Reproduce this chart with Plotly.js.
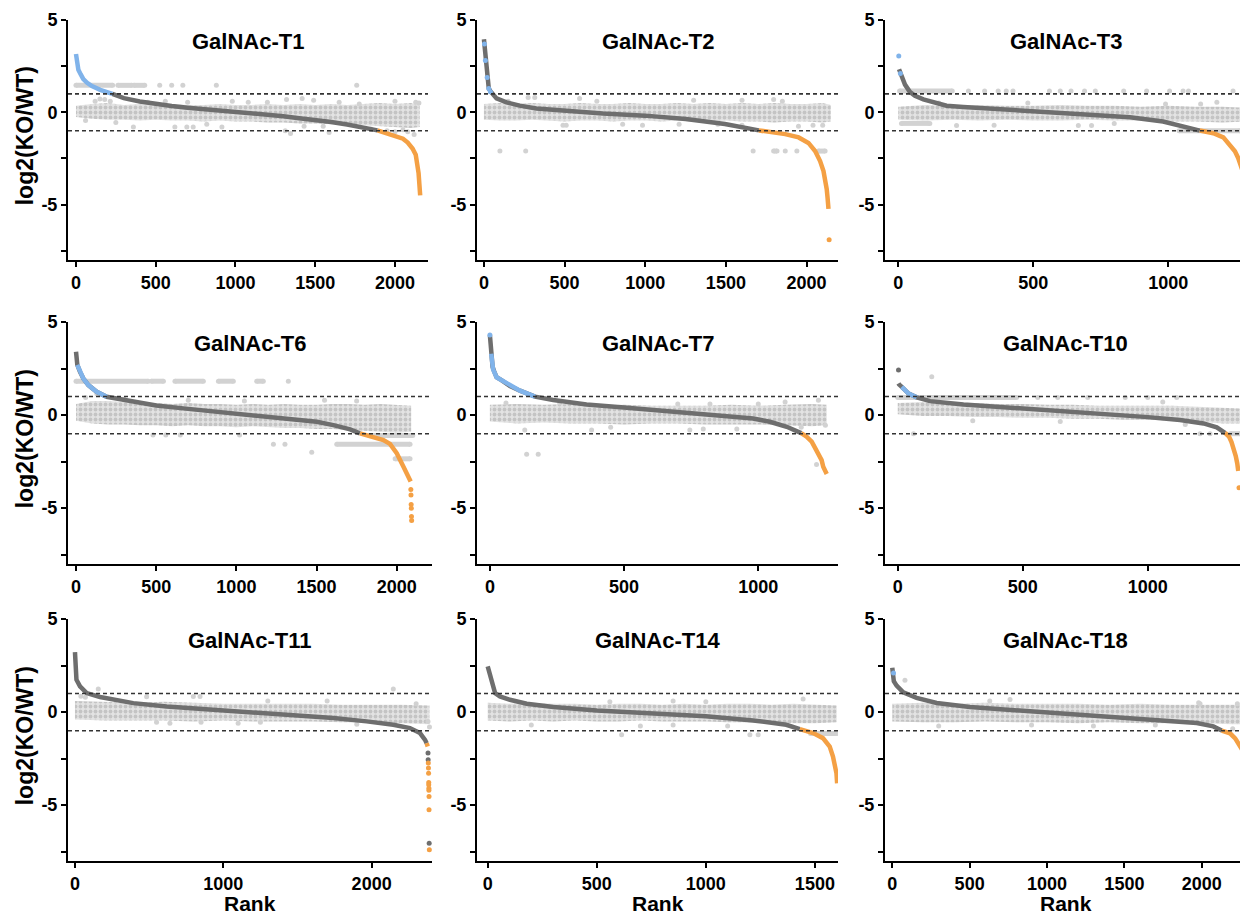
<!DOCTYPE html>
<html><head><meta charset="utf-8">
<script src="https://cdn.plot.ly/plotly-3.0.1.min.js"></script>
<style>html,body{margin:0;padding:0;overflow:hidden;background:#fff}</style>
</head><body>
<div id="chart" style="width:1250px;height:916px"></div>
<script>
// ---------------- DATA ----------------
const titles = ['GalNAc-T1','GalNAc-T2','GalNAc-T3','GalNAc-T6','GalNAc-T7','GalNAc-T10','GalNAc-T11','GalNAc-T14','GalNAc-T18'];
const yTickVals = [-7.5, -5, -2.5, 0, 2.5, 5];
const yTickText = ['', '-5', '', '0', '', '5'];
const thresholds = [1, -1];

// GalNAc-T1
const t1Ticks = [0, 500, 1000, 1500, 2000];
const t1GrayX = [228, 300, 400, 500, 600, 700, 800, 900, 1000, 1100, 1200, 1300, 1400, 1500, 1600, 1700, 1800, 1890];
const t1GrayY = [1.0, 0.77, 0.59, 0.45, 0.34, 0.25, 0.18, 0.11, 0.04, -0.04, -0.12, -0.21, -0.32, -0.41, -0.52, -0.66, -0.8, -0.98];
const t1BlueX = [0, 5, 15, 30, 46, 70, 100, 152, 190, 228];
const t1BlueY = [3.16, 2.8, 2.3, 2.05, 1.8, 1.6, 1.42, 1.22, 1.1, 1.0];
const t1OrangeX = [1890, 1950, 2000, 2050, 2080, 2110, 2130, 2140, 2148, 2153, 2158];
const t1OrangeY = [-0.98, -1.13, -1.25, -1.43, -1.64, -1.96, -2.3, -2.77, -3.3, -3.9, -4.5];
const t1BandX = [0, 100, 200, 300, 400, 500, 600, 700, 800, 900, 1000, 1100, 1200, 1300, 1400, 1500, 1600, 1700, 1800, 1900, 2000, 2100, 2155];
const t1BandHi = [0.35, 0.45, 0.5, 0.4, 0.45, 0.4, 0.45, 0.4, 0.4, 0.45, 0.4, 0.4, 0.45, 0.4, 0.45, 0.4, 0.45, 0.4, 0.45, 0.5, 0.45, 0.5, 0.4];
const t1BandLo = [-0.25, -0.35, -0.4, -0.4, -0.45, -0.4, -0.45, -0.45, -0.5, -0.45, -0.5, -0.5, -0.55, -0.55, -0.6, -0.6, -0.65, -0.65, -0.7, -0.75, -0.8, -0.85, -0.8];
const t1CloudX = [0, 230, null, 263, 350, null, 363, 431, null, 525, null, 600, null, 670, null, 880, null, 1760, null, 120, null, 150, null, 180, null, 215, null, 360, null, 620, null, 695, null, 735, null, 915, null, 1312, null, 1345, null, 1587, null, 1430, null, 1950, null, 2000, null, 2050, null, 2080, null, 2120, null, 1320, null, 1418, null, 1490, null, 1776, null, 560, null, 700, null, 980, null, 1200, null, 1650, null, 2000, null, 2130, null, 60, null, 250, null, 450, null, 820, null, 1080, null, 1550, null, 1850, null, 2150];
const t1CloudY = [1.46, 1.46, null, 1.46, 1.46, null, 1.46, 1.46, null, 1.46, null, 1.46, null, 1.46, null, 1.46, null, 1.46, null, 0.6, null, 0.72, null, 0.7, null, 0.6, null, -0.8, null, -0.8, null, -0.8, null, -0.8, null, -0.8, null, -1.0, null, -1.15, null, -1.1, null, -0.75, null, -1.0, null, -1.05, null, -0.95, null, -1.05, null, -1.2, null, 0.7, null, 0.75, null, 0.65, null, 0.45, null, 0.6, null, 0.55, null, 0.6, null, 0.55, null, 0.55, null, 0.6, null, 0.55, null, -0.45, null, -0.55, null, 0.55, null, -0.65, null, 0.55, null, -0.75, null, -0.9, null, 0.5];

// GalNAc-T2
const t2Ticks = [0, 500, 1000, 1500, 2000];
const t2GrayX = [0, 3, 6, 9, 12, 16, 20, 25, 30, 40, 47, 78, 140, 222, 325, 500, 737, 1000, 1251, 1494, 1663, 1704];
const t2GrayY = [3.96, 3.7, 3.25, 2.8, 2.54, 2.27, 1.88, 1.64, 1.29, 1.15, 1.07, 0.75, 0.54, 0.36, 0.21, 0.09, -0.07, -0.18, -0.36, -0.63, -0.89, -0.98];
const t2BlueDotX = [3, 9, 20, 30, 40];
const t2BlueDotY = [3.7, 2.8, 1.88, 1.29, 1.12];
const t2OrangeX = [1704, 1786, 1868, 1951, 2012, 2053, 2084, 2105, 2119, 2125, 2130, 2136];
const t2OrangeY = [-0.98, -1.09, -1.18, -1.36, -1.66, -2.1, -2.64, -3.18, -3.71, -4.16, -4.6, -5.23];
const t2OrangeDotX = [2140];
const t2OrangeDotY = [-6.9];
const t2BandX = [0, 100, 200, 300, 400, 500, 600, 700, 800, 900, 1000, 1100, 1200, 1300, 1400, 1500, 1600, 1700, 1800, 1900, 2000, 2100, 2150];
const t2BandHi = [0.45, 0.5, 0.45, 0.5, 0.45, 0.45, 0.5, 0.45, 0.45, 0.5, 0.45, 0.45, 0.5, 0.45, 0.5, 0.45, 0.5, 0.45, 0.5, 0.45, 0.45, 0.5, 0.4];
const t2BandLo = [-0.4, -0.45, -0.45, -0.4, -0.45, -0.5, -0.45, -0.45, -0.5, -0.45, -0.45, -0.5, -0.45, -0.5, -0.5, -0.45, -0.5, -0.5, -0.55, -0.5, -0.5, -0.55, -0.5];
const t2CloudX = [99, null, 259, null, 1669, null, 1796, 1817, null, 1868, null, 1940, null, 2074, 2115, null, 274, null, 315, null, 593, null, 1600, null, 1796, null, 490, null, 510, null, 860, null, 983, null, 1210, null, 1600, null, 1950, null, 2040, null, 2100, null, 150, null, 700, null, 1300, null, 1450, null, 1850];
const t2CloudY = [-2.1, null, -2.1, null, -2.1, null, -2.1, -2.1, null, -2.1, null, -2.1, null, -2.1, -2.1, null, 0.8, null, 0.8, null, 0.75, null, 0.65, null, 0.7, null, -0.7, null, -0.7, null, -0.65, null, -0.7, null, -0.65, null, -0.7, null, -0.75, null, -0.7, null, -0.7, null, 0.6, null, 0.6, null, 0.65, null, -0.65, null, 0.6];

// GalNAc-T3
const t3Ticks = [0, 500, 1000];
const t3GrayX = [3, 12, 25, 43, 62, 93, 130, 179, 241, 364, 500, 611, 735, 858, 981, 1056, 1117];
const t3GrayY = [2.33, 1.92, 1.5, 1.11, 0.9, 0.7, 0.54, 0.36, 0.29, 0.18, 0.07, -0.02, -0.13, -0.27, -0.5, -0.77, -0.99];
const t3BlueDotX = [2, 8];
const t3BlueDotY = [3.05, 2.1];
const t3OrangeX = [1117, 1167, 1204, 1228, 1247, 1259, 1268, 1276];
const t3OrangeY = [-0.99, -1.13, -1.36, -1.76, -2.11, -2.47, -2.83, -3.2];
const t3BandX = [0, 100, 200, 300, 400, 500, 600, 700, 800, 900, 1000, 1100, 1200, 1280];
const t3BandHi = [0.3, 0.4, 0.35, 0.4, 0.35, 0.35, 0.4, 0.35, 0.35, 0.3, 0.35, 0.3, 0.3, 0.25];
const t3BandLo = [-0.4, -0.45, -0.4, -0.45, -0.4, -0.45, -0.45, -0.4, -0.45, -0.45, -0.5, -0.5, -0.55, -0.5];
const t3CloudX = [5, 200, null, 260, null, 320, null, 370, null, 400, null, 425, null, 560, null, 600, null, 640, null, 690, null, 730, null, 835, null, 920, null, 1005, null, 1055, null, 1075, null, 1240, null, 12, 117, null, 1040, 1265, null, 216, null, 667, null, 716, null, 355, null, 1180, null, 990, null, 150, null, 480, null, 800, null, 1120];
const t3CloudY = [1.15, 1.15, null, 1.15, null, 1.15, null, 1.15, null, 1.15, null, 1.15, null, 1.15, null, 1.15, null, 1.15, null, 1.15, null, 1.15, null, 1.15, null, 1.15, null, 1.15, null, 1.15, null, 1.15, null, 1.15, null, -0.6, -0.6, null, -1.0, -1.0, null, -0.72, null, -0.72, null, -0.72, null, -0.7, null, 0.55, null, 0.45, null, 0.5, null, 0.5, null, -0.6, null, 0.45];

// GalNAc-T6
const t6Ticks = [0, 500, 1000, 1500, 2000];
const t6GrayX = [0, 2, 4, 6, 8, 25, 46, 77, 129, 191, 358, 500, 669, 877, 1002, 1189, 1397, 1501, 1605, 1709, 1771];
const t6GrayY = [3.4, 3.15, 2.95, 2.8, 2.7, 2.32, 1.96, 1.61, 1.25, 0.98, 0.71, 0.52, 0.36, 0.18, 0.09, -0.05, -0.23, -0.36, -0.54, -0.77, -0.98];
const t6BlueX = [8, 25, 46, 77, 129, 191];
const t6BlueY = [2.7, 2.32, 1.96, 1.61, 1.25, 0.98];
const t6OrangeX = [1771, 1854, 1917, 1958, 2000, 2042, 2073, 2087];
const t6OrangeY = [-0.98, -1.16, -1.34, -1.55, -2.05, -2.77, -3.3, -3.57];
const t6OrangeDotX = [2088, 2089, 2090, 2091, 2092, 2093];
const t6OrangeDotY = [-4.0, -4.3, -4.8, -5.0, -5.45, -5.66];
const t6BandX = [0, 100, 200, 300, 400, 500, 600, 700, 800, 900, 1000, 1100, 1200, 1300, 1400, 1500, 1600, 1700, 1800, 1900, 2000, 2090];
const t6BandHi = [0.6, 0.75, 0.75, 0.7, 0.7, 0.65, 0.6, 0.65, 0.6, 0.6, 0.55, 0.6, 0.55, 0.6, 0.55, 0.55, 0.6, 0.6, 0.55, 0.6, 0.55, 0.5];
const t6BandLo = [-0.3, -0.45, -0.5, -0.5, -0.55, -0.55, -0.6, -0.55, -0.6, -0.6, -0.65, -0.6, -0.65, -0.7, -0.7, -0.75, -0.75, -0.8, -0.85, -0.9, -0.95, -0.9];
const t6CloudX = [0, 450, null, 470, 545, null, 617, 794, null, 888, 981, null, 1127, 1168, null, 1324, null, 1626, 2083, null, 1231, null, 1303, null, 1990, 2083, null, 1470, null, 1830, 2100, null, 480, null, 560, null, 650, null, 1020, null, 130, null, 60, null, 300, null, 700, null, 1050, null, 1550, null, 1750];
const t6CloudY = [1.82, 1.82, null, 1.82, 1.82, null, 1.82, 1.82, null, 1.82, 1.82, null, 1.82, 1.82, null, 1.82, null, -1.57, -1.57, null, -1.57, null, -1.57, null, -2.35, -2.35, null, -2.0, null, -1.1, -1.1, null, -1.07, null, -1.07, null, -1.07, null, -1.07, null, 1.15, null, 0.95, null, 0.85, null, 0.8, null, 0.75, null, 0.8, null, 0.75];

// GalNAc-T7
const t7Ticks = [0, 500, 1000];
const t7GrayX = [0, 3, 6, 10, 15, 25, 43, 75, 112, 168, 236, 360, 500, 609, 733, 857, 981, 1043, 1106, 1160];
const t7GrayY = [4.3, 3.58, 3.3, 2.6, 2.38, 2.03, 1.88, 1.56, 1.31, 0.99, 0.81, 0.57, 0.41, 0.27, 0.14, 0.0, -0.18, -0.36, -0.63, -0.97];
const t7BlueX = [5, 8, 12, 25, 43, 75, 112, 168];
const t7BlueY = [3.3, 2.9, 2.45, 2.03, 1.88, 1.56, 1.31, 0.99];
const t7BlueDotX = [0];
const t7BlueDotY = [4.3];
const t7OrangeX = [1160, 1180, 1199, 1211, 1224, 1236, 1242, 1248, 1255];
const t7OrangeY = [-0.97, -1.16, -1.43, -1.79, -2.15, -2.42, -2.78, -3.05, -3.17];
const t7BandX = [0, 100, 200, 300, 400, 500, 600, 700, 800, 900, 1000, 1100, 1200, 1255];
const t7BandHi = [0.55, 0.6, 0.55, 0.6, 0.5, 0.55, 0.5, 0.5, 0.5, 0.55, 0.5, 0.55, 0.6, 0.55];
const t7BandLo = [-0.35, -0.45, -0.4, -0.45, -0.45, -0.5, -0.45, -0.45, -0.5, -0.5, -0.5, -0.55, -0.6, -0.55];
const t7CloudX = [137, null, 180, null, 1224, null, 1217, null, 130, null, 379, null, 745, null, 795, null, 920, null, 1250, null, 1160, null, 700, null, 820, null, 1100, null, 60, null, 260, null, 450, null, 1000];
const t7CloudY = [-2.1, null, -2.1, null, 0.8, null, -2.65, null, -0.8, null, -0.8, null, -0.8, null, -0.75, null, -0.75, null, -0.55, null, -0.65, null, 0.6, null, 0.6, null, 0.7, null, 0.65, null, 0.65, null, -0.65, null, 0.6];

// GalNAc-T10
const t10Ticks = [0, 500, 1000];
const t10GrayX = [3, 5, 16, 43, 76, 129, 263, 396, 500, 663, 796, 929, 1000, 1129, 1223, 1276, 1309];
const t10GrayY = [1.70, 1.65, 1.52, 1.16, 0.95, 0.75, 0.57, 0.45, 0.36, 0.22, 0.09, -0.04, -0.11, -0.27, -0.45, -0.66, -0.95];
const t10GrayDotX = [3];
const t10GrayDotY = [2.42];
const t10BlueX = [16, 43, 76];
const t10BlueY = [1.52, 1.16, 0.95];
const t10OrangeX = [1309, 1325, 1335, 1345, 1352, 1358, 1362];
const t10OrangeY = [-0.95, -1.15, -1.45, -1.8, -2.2, -2.6, -3.0];
const t10OrangeDotX = [1365];
const t10OrangeDotY = [-3.9];
const t10BandX = [0, 100, 200, 300, 400, 500, 600, 700, 800, 900, 1000, 1100, 1200, 1300, 1370];
const t10BandHi = [0.65, 0.7, 0.65, 0.65, 0.6, 0.6, 0.55, 0.55, 0.5, 0.5, 0.5, 0.5, 0.45, 0.4, 0.35];
const t10BandLo = [0.05, -0.05, -0.05, -0.1, -0.1, -0.15, -0.15, -0.2, -0.2, -0.25, -0.25, -0.3, -0.35, -0.45, -0.45];
const t10CloudX = [0, 475, null, 560, null, 640, null, 760, null, 910, null, 1000, null, 1116, null, 136, null, 63, null, 1209, null, 1249, null, 1330, 1370, null, 300, null, 650, null, 1060, null, 1150];
const t10CloudY = [0.95, 0.95, null, 0.95, null, 0.95, null, 0.95, null, 0.95, null, 0.95, null, 0.95, null, 2.06, null, -1.0, null, -1.0, null, -1.0, null, -1.0, -1.0, null, -0.3, null, -0.35, null, 0.7, null, -0.5];

// GalNAc-T11
const t11Ticks = [0, 1000, 2000];
const t11GrayX = [0, 2, 4, 6, 8, 10, 34, 79, 169, 393, 618, 1000, 1292, 1517, 1742, 1966, 2146, 2258, 2326, 2360, 2371];
const t11GrayY = [3.22, 2.8, 2.45, 2.19, 1.92, 1.74, 1.38, 1.02, 0.81, 0.48, 0.3, 0.09, -0.05, -0.18, -0.32, -0.5, -0.68, -0.86, -1.13, -1.49, -1.67];
const t11GrayDotX = [2380, 2381, 2388];
const t11GrayDotY = [-2.2, -2.56, -7.04];
const t11OrangeX = [2371, 2378];
const t11OrangeY = [-1.67, -1.85];
const t11OrangeDotX = [2382, 2383, 2384, 2385, 2385, 2386, 2386, 2387, 2387, 2389];
const t11OrangeDotY = [-2.74, -3.0, -3.28, -3.78, -3.9, -4.09, -4.2, -4.53, -5.25, -7.4];
const t11BandX = [0, 200, 400, 600, 800, 1000, 1200, 1400, 1600, 1800, 2000, 2200, 2390];
const t11BandHi = [0.6, 0.55, 0.5, 0.55, 0.5, 0.45, 0.45, 0.45, 0.45, 0.4, 0.4, 0.4, 0.35];
const t11BandLo = [-0.4, -0.45, -0.45, -0.45, -0.5, -0.45, -0.5, -0.5, -0.5, -0.55, -0.55, -0.6, -0.65];
const t11CloudX = [157, null, 2146, null, 798, null, 843, null, 483, null, 40, null, 70, null, 1300, null, 1700, null, 2300, null, 550, null, 640, null, 850, null, 1100, null, 1250, null, 1900, null, 2390, null, 2380];
const t11CloudY = [1.24, null, 1.24, null, 0.84, null, 0.84, null, 0.82, null, 0.85, null, 0.8, null, 0.6, null, 0.6, null, 0.45, null, -0.55, null, -0.6, null, -0.55, null, -0.6, null, -0.55, null, -0.65, null, -0.8, null, -0.5];

// GalNAc-T14
const t14Ticks = [0, 500, 1000, 1500];
const t14GrayX = [0, 8, 15, 23, 34, 56, 102, 179, 301, 500, 759, 1000, 1217, 1369, 1431];
const t14GrayY = [2.46, 2.1, 1.74, 1.29, 1.02, 0.84, 0.66, 0.45, 0.27, 0.09, -0.05, -0.23, -0.45, -0.68, -0.92];
const t14OrangeX = [1431, 1492, 1537, 1568, 1583, 1591, 1599, 1602];
const t14OrangeY = [-0.92, -1.13, -1.4, -1.85, -2.39, -2.75, -3.29, -3.83];
const t14BandX = [0, 100, 200, 300, 400, 500, 600, 700, 800, 900, 1000, 1100, 1200, 1300, 1400, 1500, 1600];
const t14BandHi = [0.5, 0.45, 0.5, 0.45, 0.45, 0.4, 0.45, 0.45, 0.4, 0.45, 0.4, 0.45, 0.45, 0.4, 0.45, 0.4, 0.35];
const t14BandLo = [-0.45, -0.5, -0.45, -0.5, -0.45, -0.5, -0.5, -0.45, -0.5, -0.5, -0.5, -0.55, -0.55, -0.55, -0.6, -0.6, -0.55];
const t14CloudX = [1446, null, 614, null, 1202, null, 1240, null, 1480, 1600, null, 200, null, 700, null, 850, null, 1100, null, 560, null, 850, null, 1000];
const t14CloudY = [0.7, null, -1.22, null, -1.22, null, -1.22, null, -1.15, -1.15, null, -0.7, null, -0.75, null, -0.7, null, -0.75, null, 0.55, null, 0.6, null, 0.55];

// GalNAc-T18
const t18Ticks = [0, 500, 1000, 1500, 2000];
const t18GrayX = [0, 10, 28, 71, 157, 287, 502, 782, 1002, 1321, 1537, 1752, 1968, 2075, 2129];
const t18GrayY = [2.38, 1.66, 1.42, 1.06, 0.76, 0.49, 0.27, 0.11, -0.02, -0.18, -0.29, -0.41, -0.59, -0.77, -0.99];
const t18BlueDotX = [8];
const t18BlueDotY = [2.1];
const t18OrangeX = [2129, 2183, 2216, 2244, 2260];
const t18OrangeY = [-0.99, -1.14, -1.41, -1.77, -2.0];
const t18BandX = [0, 200, 400, 600, 800, 1000, 1200, 1400, 1600, 1800, 2000, 2200, 2280];
const t18BandHi = [0.45, 0.5, 0.45, 0.5, 0.45, 0.45, 0.45, 0.4, 0.45, 0.4, 0.4, 0.4, 0.4];
const t18BandLo = [-0.5, -0.55, -0.55, -0.5, -0.55, -0.55, -0.6, -0.55, -0.6, -0.6, -0.6, -0.65, -0.65];
const t18CloudX = [82, null, 761, null, 630, null, 1989, null, 1980, null, 2230, null, 300, null, 900, null, 1300, null, 1700, null, 2200];
const t18CloudY = [1.71, null, 0.67, null, 0.6, null, 0.45, null, 0.5, null, 0.45, null, -0.75, null, -0.7, null, -0.75, null, -0.7, null, -0.9];

// ---------------- table built from the arrays ----------------
const panels = [
  {ticks: t1Ticks, grayX: t1GrayX, grayY: t1GrayY, blueX: t1BlueX, blueY: t1BlueY, orangeX: t1OrangeX, orangeY: t1OrangeY, bandX: t1BandX, bandHi: t1BandHi, bandLo: t1BandLo, cloudX: t1CloudX, cloudY: t1CloudY},
  {ticks: t2Ticks, grayX: t2GrayX, grayY: t2GrayY, blueDotX: t2BlueDotX, blueDotY: t2BlueDotY, orangeX: t2OrangeX, orangeY: t2OrangeY, orangeDotX: t2OrangeDotX, orangeDotY: t2OrangeDotY, bandX: t2BandX, bandHi: t2BandHi, bandLo: t2BandLo, cloudX: t2CloudX, cloudY: t2CloudY},
  {ticks: t3Ticks, grayX: t3GrayX, grayY: t3GrayY, blueDotX: t3BlueDotX, blueDotY: t3BlueDotY, orangeX: t3OrangeX, orangeY: t3OrangeY, bandX: t3BandX, bandHi: t3BandHi, bandLo: t3BandLo, cloudX: t3CloudX, cloudY: t3CloudY},
  {ticks: t6Ticks, grayX: t6GrayX, grayY: t6GrayY, blueX: t6BlueX, blueY: t6BlueY, orangeX: t6OrangeX, orangeY: t6OrangeY, orangeDotX: t6OrangeDotX, orangeDotY: t6OrangeDotY, bandX: t6BandX, bandHi: t6BandHi, bandLo: t6BandLo, cloudX: t6CloudX, cloudY: t6CloudY},
  {ticks: t7Ticks, grayX: t7GrayX, grayY: t7GrayY, blueX: t7BlueX, blueY: t7BlueY, blueDotX: t7BlueDotX, blueDotY: t7BlueDotY, orangeX: t7OrangeX, orangeY: t7OrangeY, bandX: t7BandX, bandHi: t7BandHi, bandLo: t7BandLo, cloudX: t7CloudX, cloudY: t7CloudY},
  {ticks: t10Ticks, grayX: t10GrayX, grayY: t10GrayY, grayDotX: t10GrayDotX, grayDotY: t10GrayDotY, blueX: t10BlueX, blueY: t10BlueY, orangeX: t10OrangeX, orangeY: t10OrangeY, orangeDotX: t10OrangeDotX, orangeDotY: t10OrangeDotY, bandX: t10BandX, bandHi: t10BandHi, bandLo: t10BandLo, cloudX: t10CloudX, cloudY: t10CloudY},
  {ticks: t11Ticks, grayX: t11GrayX, grayY: t11GrayY, grayDotX: t11GrayDotX, grayDotY: t11GrayDotY, orangeX: t11OrangeX, orangeY: t11OrangeY, orangeDotX: t11OrangeDotX, orangeDotY: t11OrangeDotY, bandX: t11BandX, bandHi: t11BandHi, bandLo: t11BandLo, cloudX: t11CloudX, cloudY: t11CloudY},
  {ticks: t14Ticks, grayX: t14GrayX, grayY: t14GrayY, orangeX: t14OrangeX, orangeY: t14OrangeY, bandX: t14BandX, bandHi: t14BandHi, bandLo: t14BandLo, cloudX: t14CloudX, cloudY: t14CloudY},
  {ticks: t18Ticks, grayX: t18GrayX, grayY: t18GrayY, blueDotX: t18BlueDotX, blueDotY: t18BlueDotY, orangeX: t18OrangeX, orangeY: t18OrangeY, bandX: t18BandX, bandHi: t18BandHi, bandLo: t18BandLo, cloudX: t18CloudX, cloudY: t18CloudY}
];

// ---------------- layout geometry (pixels) ----------------
const W = 1250, H = 916;
const geom = [
  {x0: 68, x1: 428, y0: 20, y1: 260, range: [-50, 2207]},
  {x0: 477, x1: 838, y0: 20, y1: 260, range: [-43, 2195]},
  {x0: 885, x1: 1246, y0: 20, y1: 260, range: [-49, 1288]},
  {x0: 68, x1: 432, y0: 322, y1: 564, range: [-50, 2220]},
  {x0: 477, x1: 838, y0: 322, y1: 564, range: [-48, 1297]},
  {x0: 885, x1: 1246, y0: 322, y1: 564, range: [-51, 1393]},
  {x0: 68, x1: 432, y0: 619, y1: 861, range: [-47, 2407]},
  {x0: 477, x1: 838, y0: 619, y1: 861, range: [-49, 1606]},
  {x0: 885, x1: 1246, y0: 619, y1: 861, range: [-47, 2286]}
];

const FONT = 'Liberation Sans, Arial, Helvetica, sans-serif';
const C_GRAY = '#6e6e6e', C_BLUE = '#80b3ea', C_ORANGE = '#f4a044', C_CLOUD = '#d2d2d2', C_BAND = '#dedede';

const traces = [];
const layout = {
  width: W, height: H, showlegend: false,
  margin: {l: 0, r: 0, t: 0, b: 0},
  paper_bgcolor: '#fff', plot_bgcolor: 'rgba(0,0,0,0)',
  font: {family: FONT, color: '#000'},
  shapes: [], annotations: []
};

panels.forEach((p, i) => {
  const n = i === 0 ? '' : String(i + 1);
  const xa = 'x' + n, ya = 'y' + n;
  const g = geom[i];
  const base = {xaxis: xa, yaxis: ya, hoverinfo: 'skip', showlegend: false};
  traces.push(Object.assign({}, base, {
    type: 'scatter', mode: 'lines', fill: 'toself', fillcolor: C_BAND,
    fillpattern: {shape: '.', fgcolor: '#c4c4c4', bgcolor: '#e3e3e3', size: 5, solidity: 0.45},
    line: {width: 0, color: C_BAND},
    x: p.bandX.concat(p.bandX.slice().reverse()),
    y: p.bandHi.concat(p.bandLo.slice().reverse())
  }));
  traces.push(Object.assign({}, base, {
    type: 'scatter', mode: 'lines+markers', connectgaps: false,
    x: p.cloudX, y: p.cloudY,
    line: {color: C_CLOUD, width: 5}, marker: {color: C_CLOUD, size: 5}
  }));
  const addLine = (x, y, c) => { if (x && x.length) traces.push(Object.assign({}, base, {
    type: 'scatter', mode: 'lines', x: x, y: y, line: {color: c, width: 4.5}})); };
  const addDots = (x, y, c) => { if (x && x.length) traces.push(Object.assign({}, base, {
    type: 'scatter', mode: 'markers', x: x, y: y, marker: {color: c, size: 5}})); };
  addLine(p.grayX, p.grayY, C_GRAY);
  addDots(p.grayDotX, p.grayDotY, C_GRAY);
  addLine(p.blueX, p.blueY, C_BLUE);
  addDots(p.blueDotX, p.blueDotY, C_BLUE);
  addLine(p.orangeX, p.orangeY, C_ORANGE);
  addDots(p.orangeDotX, p.orangeDotY, C_ORANGE);

  const tf = {family: FONT, size: 18, color: '#000', weight: 'bold'};
  layout['xaxis' + n] = {
    domain: [g.x0 / W, g.x1 / W], anchor: ya, range: g.range,
    tickvals: p.ticks, ticktext: p.ticks.map(String),
    showline: true, linewidth: 2, linecolor: '#000',
    ticks: 'outside', ticklen: 5, tickwidth: 2, tickcolor: '#000',
    showgrid: false, zeroline: false, tickfont: tf
  };
  layout['yaxis' + n] = {
    domain: [(H - g.y1) / H, (H - g.y0) / H], anchor: xa, range: [-8, 5],
    tickvals: yTickVals, ticktext: yTickText,
    showline: true, linewidth: 2, linecolor: '#000',
    ticks: 'outside', ticklen: 5, tickwidth: 2, tickcolor: '#000',
    showgrid: false, zeroline: false, tickfont: tf
  };
  thresholds.forEach(t => layout.shapes.push({
    type: 'line', xref: xa + ' domain', yref: ya, x0: 0, x1: 1, y0: t, y1: t,
    line: {color: '#333', width: 1.6, dash: '4px,3px'}, layer: 'above'
  }));
  layout.annotations.push({
    xref: xa + ' domain', yref: ya, x: 0.5, y: 3.85, showarrow: false,
    text: titles[i], xanchor: 'center', yanchor: 'middle',
    font: {family: FONT, size: 22, color: '#000', weight: 'bold'}
  });
  if (i % 3 === 0) layout.annotations.push({
    xref: 'paper', yref: ya, x: 25 / W, y: -1.3, showarrow: false,
    text: 'log2(KO/WT)', textangle: -90, xanchor: 'center', yanchor: 'middle',
    font: {family: FONT, size: 23, color: '#000', weight: 'bold'}
  });
  if (i >= 6) layout.annotations.push({
    xref: xa + ' domain', yref: 'paper', x: 0.5, y: 0, showarrow: false,
    text: 'Rank', xanchor: 'center', yanchor: 'bottom', borderpad: 0,
    font: {family: FONT, size: 21, color: '#000', weight: 'bold'}
  });
});

Plotly.newPlot('chart', traces, layout, {staticPlot: true, displayModeBar: false});
</script>
</body></html>
